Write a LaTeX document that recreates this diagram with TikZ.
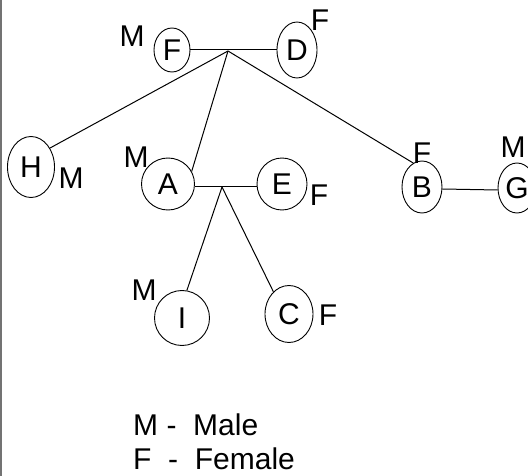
\documentclass[tikz,border=0pt]{standalone}
\usepackage{fontspec}
\setmainfont{Liberation Sans}
\usetikzlibrary{shapes.geometric}
\begin{document}
\begin{tikzpicture}[x=1pt,y=-1pt,
  txt/.style={font=\fontsize{30}{36}\selectfont},
  pers/.style={ellipse,draw,line width=0.9pt,inner sep=0pt,txt,text height=21.5pt,text depth=0pt},
  lbl/.style={inner sep=0pt,txt,text height=21.5pt,text depth=0pt},
  link/.style={line width=1pt},
  edge/.style={line width=1.5pt,black!55}]
\useasboundingbox (0,0) rectangle (528,476);
\draw[edge] (1,0) -- (1,476);
% persons
\node[pers,minimum width=36pt,minimum height=44pt] (F) at (172,50) {F};
\node[pers,minimum width=40pt,minimum height=56pt] (D) at (297,50) {D};
\node[pers,minimum width=47pt,minimum height=61pt] (H) at (31,167) {H};
\node[pers,minimum width=53pt,minimum height=52pt] (A) at (168,184) {A};
\node[pers,minimum width=50pt,minimum height=52pt] (E) at (282,184) {E};
\node[pers,minimum width=40pt,minimum height=52pt] (B) at (422,187) {B};
\node[pers,minimum width=38pt,minimum height=50pt] (G) at (517,188) {G};
\node[pers,minimum width=55pt,minimum height=55pt] (I) at (182,318) {I};
\node[pers,minimum width=48pt,minimum height=57pt] (C) at (289,314) {C};
% gender labels
\node[lbl] (lF) at (132,36) {M};
\node[lbl] (lD) at (320,20) {F};
\node[lbl] (lH) at (71,178) {M};
\node[lbl] (lA) at (136,157) {M};
\node[lbl] (lE) at (319,195) {F};
\node[lbl] (lB) at (422,153) {F};
\node[lbl] (lG) at (513,147) {M};
\node[lbl] (lI) at (144,290) {M};
\node[lbl] (lC) at (328,315) {F};
% junctions
\coordinate (j1) at (228,51);
\coordinate (j2) at (222,187);
% connectors
\draw[link] (F.east) -- (D.west);
\draw[link] (j1) -- (H.45);
\draw[link] (j1) -- (A.28);
\draw[link] (j1) -- (B.110);
\draw[link] ([yshift=-3pt]A.east) -- ([yshift=-3pt]E.west);
\draw[link] ([yshift=-2pt]B.east) -- ([yshift=-2pt]G.west);
\draw[link] (j2) -- (I.80);
\draw[link] (j2) -- (C.125);
% legend
\node[txt,inner sep=0pt,anchor=base west] (legM) at (133,435) {M -~~Male};
\node[txt,inner sep=0pt,anchor=base west] (legF) at (133,469) {F~~-~~Female};
\end{tikzpicture}
\end{document}
